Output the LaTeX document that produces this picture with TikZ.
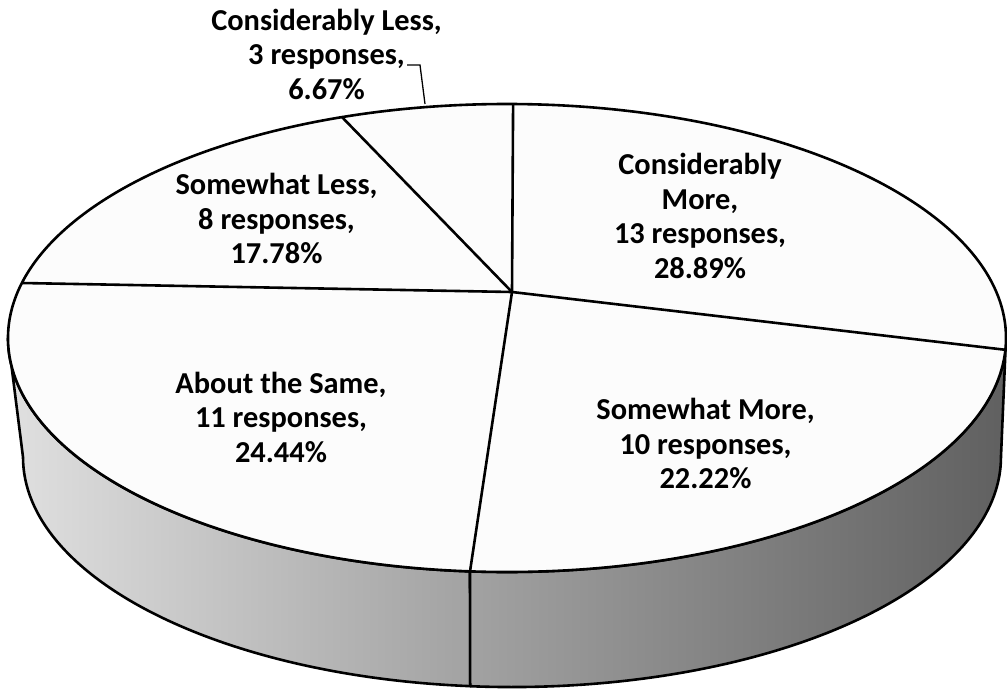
\documentclass[tikz,border=0pt]{standalone}
\usepackage{fontspec}
\setmainfont{Carlito}
\usetikzlibrary{positioning}
\definecolor{topfill}{RGB}{252,252,252}
\definecolor{sidelight}{RGB}{224,224,224}
\definecolor{sidemid}{RGB}{162,162,162}
\definecolor{sidedeep}{RGB}{104,104,104}
\definecolor{sidedark}{RGB}{96,96,96}

\begin{document}
\begin{tikzpicture}[x=1pt, y=-1pt,
    edge/.style={line width=2.6pt, line join=round},
    lbl/.style={align=center, inner sep=0pt, font=\fontsize{30.4}{34.5}\selectfont\bfseries}]
    \useasboundingbox (0,0) rectangle (1007,691);

    % Side (About the Same)
    \draw[edge, left color=sidelight, right color=sidemid]
        (470,571.4) arc[start angle=94.25, end angle=180, x radius=499, y radius=234]
        -- (23,457) arc[start angle=180, end angle=94.9, x radius=489, y radius=230] -- cycle;

    % Side (Somewhat More)
    \draw[edge, left color=sidemid, middle color=sidedeep, right color=sidedark]
        (1006,338) arc[start angle=0, end angle=94.25, x radius=499, y radius=234]
        -- (470.2,686.2) arc[start angle=94.9, end angle=0, x radius=489, y radius=230] -- cycle;

    % Top
    \draw[edge, fill=topfill] (507,338) ellipse[x radius=499, y radius=234];

    % Slices
    \coordinate (apex) at (512,292);
    \coordinate (b-top) at (513.1,104);
    \coordinate (b-right) at (1005.4,349.8);
    \coordinate (b-front) at (470,571.4);
    \coordinate (b-left) at (22,283);
    \coordinate (b-back) at (342.1,117.2);
    \draw[edge] (apex) -- (b-top);
    \draw[edge] (apex) -- (b-right);
    \draw[edge] (apex) -- (b-front);
    \draw[edge] (apex) -- (b-left);
    \draw[edge] (apex) -- (b-back);

    % Labels
    \node[lbl] (cless) at (326.5,54) {Considerably Less,\\3 responses,\\6.67\%};
    \node[lbl] (cmore) at (700,216) {Considerably\\More,\\13 responses,\\28.89\%};
    \node[lbl] (sless) at (276.5,218.5) {Somewhat Less,\\8 responses,\\17.78\%};
    \node[lbl] (same) at (281,417) {About the Same,\\11 responses,\\24.44\%};
    \node[lbl] (smore) at (705.5,443.5) {Somewhat More,\\10 responses,\\22.22\%};

    % Leader
    \coordinate (cl-a) at (407,65);
    \coordinate (cl-b) at (425,104);
    \draw[line width=1.3pt] (cl-a) -- ++(13,0) -- (cl-b);
\end{tikzpicture}
\end{document}
